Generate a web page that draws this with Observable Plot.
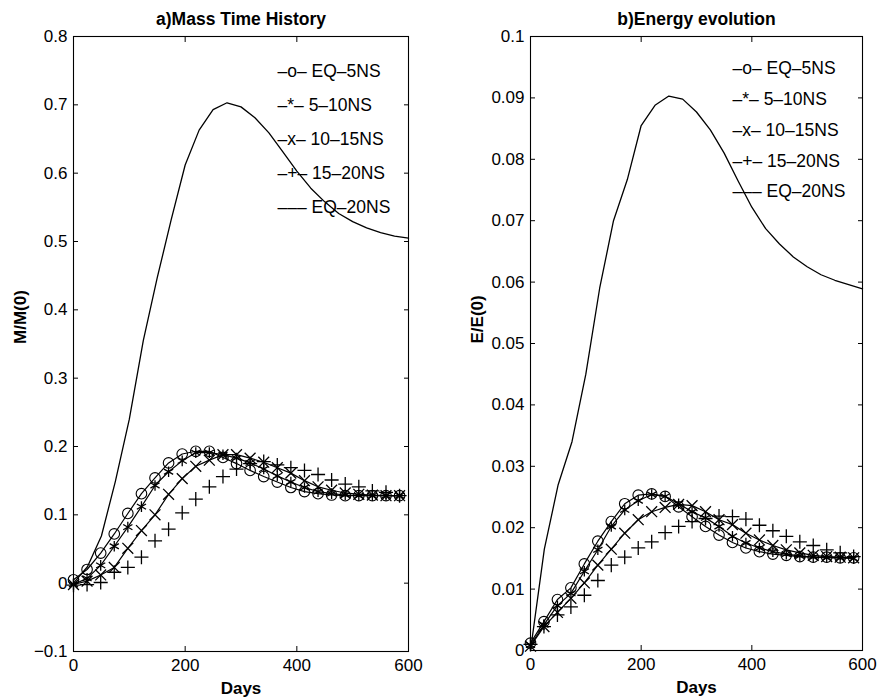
<!DOCTYPE html>
<html><head><meta charset="utf-8">
<script src="https://cdn.jsdelivr.net/npm/d3@7"></script>
<script src="https://cdn.jsdelivr.net/npm/@observablehq/plot@0.6"></script>
<style>
body{margin:0;background:#fff;}
#wrap{position:relative;width:878px;height:700px;overflow:hidden;}
#wrap > div{position:absolute;top:0;}
</style></head><body><div id="wrap"><div id="pa" style="left:0px"></div><div id="pb" style="left:440px"></div></div>
<script>
// ---------- data ----------
const daysMarker = [0, 24.3, 48.7, 73, 97.3, 121.7, 146, 170.3, 194.7, 219, 243.3, 267.7, 292, 316.3, 340.7, 365, 389.3, 413.7, 438, 462.3, 486.7, 511, 535.3, 559.7, 584];
const daysLine = [0, 25, 50, 75, 100, 125, 150, 175, 200, 225, 250, 275, 300, 325, 350, 375, 400, 425, 450, 475, 500, 525, 550, 575, 600];

const xTicks = [0, 200, 400, 600];
const massTicks = [-0.1, 0, 0.1, 0.2, 0.3, 0.4, 0.5, 0.6, 0.7, 0.8];
const energyTicks = [0, 0.01, 0.02, 0.03, 0.04, 0.05, 0.06, 0.07, 0.08, 0.09, 0.1];

const seriesNames = ["EQ-5NS", "5-10NS", "10-15NS", "15-20NS", "EQ-20NS"];
const legendLabels = ["\u2013o\u2013 EQ\u20135NS", "\u2013*\u2013 5\u201310NS", "\u2013x\u2013 10\u201315NS", "\u2013+\u2013 15\u201320NS", "\u2013\u2013\u2013 EQ\u201320NS"];

// a) Mass
const massEQ5 = [0.005, 0.02, 0.044, 0.072, 0.102, 0.131, 0.154, 0.176, 0.189, 0.193, 0.193, 0.184, 0.175, 0.165, 0.156, 0.148, 0.140, 0.134, 0.131, 0.129, 0.128, 0.128, 0.128, 0.128, 0.128];
const mass5to10 = [-0.002, 0.007, 0.026, 0.054, 0.082, 0.112, 0.143, 0.163, 0.179, 0.191, 0.191, 0.188, 0.183, 0.176, 0.167, 0.157, 0.148, 0.140, 0.134, 0.131, 0.129, 0.128, 0.128, 0.128, 0.128];
const mass10to15 = [-0.002, 0.003, 0.012, 0.023, 0.051, 0.077, 0.100, 0.130, 0.153, 0.171, 0.180, 0.188, 0.188, 0.183, 0.177, 0.169, 0.161, 0.150, 0.141, 0.136, 0.132, 0.130, 0.129, 0.128, 0.128];
const mass15to20 = [-0.003, -0.002, 0.001, 0.016, 0.023, 0.038, 0.062, 0.079, 0.103, 0.123, 0.141, 0.156, 0.167, 0.175, 0.178, 0.173, 0.169, 0.165, 0.159, 0.151, 0.145, 0.141, 0.135, 0.133, 0.128];
const massEQ20 = [0, 0.024, 0.069, 0.149, 0.24, 0.355, 0.447, 0.532, 0.612, 0.663, 0.693, 0.703, 0.697, 0.681, 0.659, 0.631, 0.603, 0.578, 0.558, 0.541, 0.529, 0.520, 0.513, 0.508, 0.505];

// b) Energy
const energyEQ5 = [0.0012, 0.0047, 0.0083, 0.0102, 0.0141, 0.0178, 0.0210, 0.0239, 0.0253, 0.0255, 0.0251, 0.0234, 0.0218, 0.0202, 0.0188, 0.0176, 0.0167, 0.0161, 0.0157, 0.0155, 0.0153, 0.0152, 0.0152, 0.0151, 0.0151];
const energy5to10 = [0.0009, 0.0042, 0.0073, 0.0093, 0.0129, 0.0164, 0.0202, 0.0229, 0.0244, 0.0254, 0.0251, 0.0239, 0.0226, 0.0216, 0.0202, 0.0186, 0.0175, 0.0167, 0.0161, 0.0157, 0.0154, 0.0152, 0.0151, 0.0151, 0.0150];
const energy10to15 = [0.0007, 0.0039, 0.0062, 0.0085, 0.0110, 0.0139, 0.0165, 0.0191, 0.0213, 0.0226, 0.0233, 0.0238, 0.0236, 0.0226, 0.0213, 0.0205, 0.0191, 0.0180, 0.0171, 0.0164, 0.0159, 0.0155, 0.0153, 0.0152, 0.0151];
const energy15to20 = [0.0010, 0.0039, 0.0058, 0.0071, 0.0090, 0.0114, 0.0139, 0.0152, 0.0167, 0.0177, 0.0192, 0.0202, 0.0210, 0.0215, 0.0219, 0.0218, 0.0214, 0.0204, 0.0195, 0.0186, 0.0177, 0.0171, 0.0164, 0.0159, 0.0153];
const energyEQ20 = [0, 0.0165, 0.027, 0.034, 0.045, 0.059, 0.070, 0.0767, 0.0855, 0.0888, 0.0903, 0.0898, 0.0877, 0.0848, 0.081, 0.0765, 0.0722, 0.0687, 0.0662, 0.0641, 0.0625, 0.0612, 0.0603, 0.0596, 0.0589];

// ---------- drawing ----------
const FONT = '"Liberation Sans", Arial, Helvetica, sans-serif';
const rows = (xs, vs) => vs.map((v, i) => ({day: xs[i], v}));
const fmt = d => { const s = String(+d.toFixed(3)); return s.replace("-", "\u2212"); };

function panel({width, marginLeft, marginRight, marginTop, marginBottom, yDomain, yTicks, title, ylabel, series, main, legend}) {
  const [s1, s2, s3, s4] = series;
  const marks = [
    Plot.frame({stroke: "black", strokeWidth: 1.1}),
    Plot.axisX(xTicks, {anchor: "bottom", tickSize: -5, tickPadding: 12, tickFormat: d => String(d), label: null, fontSize: 17}),
    Plot.axisX(xTicks, {anchor: "top", tickSize: -5, tickFormat: () => "", label: null}),
    Plot.axisY(yTicks, {anchor: "left", tickSize: -5, tickPadding: 11, tickFormat: fmt, label: null, fontSize: 17}),
    Plot.axisY(yTicks, {anchor: "right", tickSize: -5, tickFormat: () => "", label: null}),
    // EQ-20NS: solid line
    Plot.line(rows(daysLine, main), {x: "day", y: "v", stroke: "black", strokeWidth: 1.3}),
    // EQ-5NS: line + circles
    Plot.line(rows(daysMarker, s1), {x: "day", y: "v", stroke: "black", strokeWidth: 1.2}),
    Plot.dot(rows(daysMarker, s1), {x: "day", y: "v", symbol: "circle", r: 5.3, stroke: "black", fill: "none", strokeWidth: 1.1}),
    // 5-10NS: line + asterisks
    Plot.line(rows(daysMarker, s2), {x: "day", y: "v", stroke: "black", strokeWidth: 1.2}),
    Plot.dot(rows(daysMarker, s2), {x: "day", y: "v", symbol: "asterisk", r: 5, stroke: "black", fill: "none", strokeWidth: 1.3}),
    // 10-15NS: line + times
    Plot.line(rows(daysMarker, s3), {x: "day", y: "v", stroke: "black", strokeWidth: 1.2}),
    Plot.dot(rows(daysMarker, s3), {x: "day", y: "v", symbol: "times", r: 5, stroke: "black", fill: "none", strokeWidth: 1.3}),
    // 15-20NS: plus markers
    Plot.dot(rows(daysMarker, s4), {x: "day", y: "v", symbol: "plus", r: 4.6, stroke: "black", fill: "none", strokeWidth: 1.3}),
    // title & axis labels
    Plot.text([title], {frameAnchor: "top", dy: -17, fontWeight: "bold", fontSize: 17.5, lineAnchor: "middle", fill: "black"}),
    Plot.text(["Days"], {frameAnchor: "bottom", dy: 37, fontWeight: "bold", fontSize: 17, lineAnchor: "middle", fill: "black"}),
    Plot.text([ylabel], {frameAnchor: "left", dx: -53, rotate: -90, fontWeight: "bold", fontSize: 17, lineAnchor: "middle", fill: "black"}),
    ...legendLabels.map((t, i) => Plot.text([t], {frameAnchor: "top-left", dx: legend.dx, dy: legend.dy0 + i * legend.step, textAnchor: "start", lineAnchor: "middle", fontSize: legend.size, fill: "black"}))
  ];
  return Plot.plot({
    width, height: 700, marginLeft, marginRight, marginTop, marginBottom,
    x: {domain: [0, 600]},
    y: {domain: yDomain},
    style: {fontFamily: FONT, fontSize: "17px", color: "black", background: "white", overflow: "visible"},
    marks
  });
}

document.getElementById("pa").appendChild(panel({
  width: 440, marginLeft: 73, marginRight: 32, marginTop: 36, marginBottom: 49,
  yDomain: [-0.1, 0.8], yTicks: massTicks,
  title: "a)Mass Time History", ylabel: "M/M(0)",
  series: [massEQ5, mass5to10, mass10to15, mass15to20], main: massEQ20,
  legend: {dx: 204, dy0: 35, step: 34, size: 17.5}
}));
document.getElementById("pb").appendChild(panel({
  width: 438, marginLeft: 90, marginRight: 16, marginTop: 36, marginBottom: 50,
  yDomain: [0, 0.1], yTicks: energyTicks,
  title: "b)Energy evolution", ylabel: "E/E(0)",
  series: [energyEQ5, energy5to10, energy10to15, energy15to20], main: energyEQ20,
  legend: {dx: 202, dy0: 32, step: 30.8, size: 17.5}
}));
</script></body></html>
